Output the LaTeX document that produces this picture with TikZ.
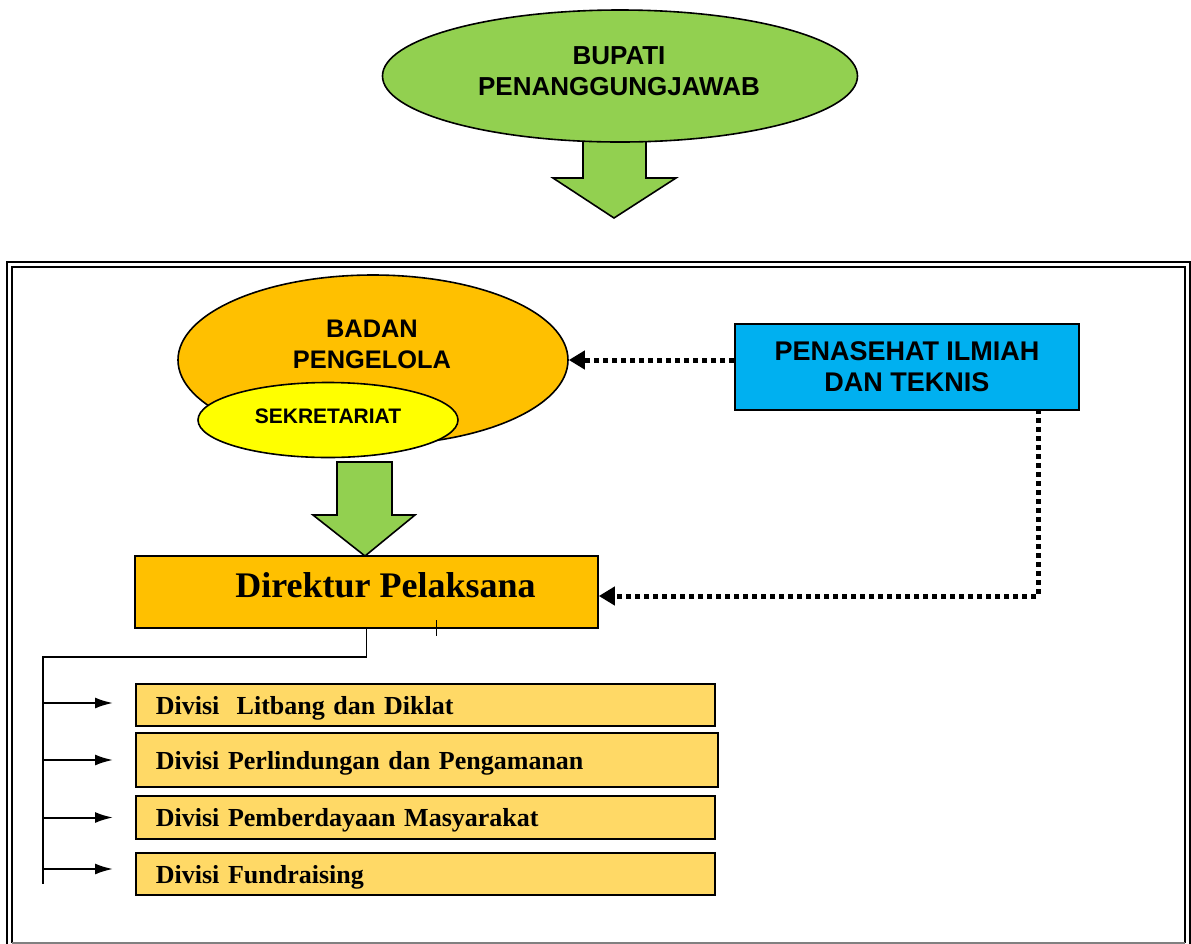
\documentclass[tikz,border=0pt]{standalone}
\usepackage{fontspec}
\setmainfont{Liberation Serif}
\setsansfont{Liberation Sans}
\usetikzlibrary{shapes.geometric,arrows.meta}

\definecolor{hijau}{HTML}{92D050}
\definecolor{emas}{HTML}{FFC000}
\definecolor{kuning}{HTML}{FFFF00}
\definecolor{biru}{HTML}{00B0F0}
\definecolor{emasmuda}{HTML}{FFD966}

\begin{document}
\begin{tikzpicture}[x=0.5pt,y=-0.5pt]
	\tikzset{oval/.style={ellipse,draw,thick,inner sep=0pt}}
	\tikzset{kotak/.style={rectangle,draw,thick,inner sep=0pt}}
	\tikzset{judul/.style={font=\sffamily\bfseries\fontsize{13}{15.5}\selectfont,align=center}}
	\tikzset{divisi/.style={kotak,fill=emasmuda,anchor=west,align=left,inner xsep=10pt,
		text depth=0pt,font=\bfseries\fontsize{13}{15}\selectfont}}
	\tikzset{titik/.style={line width=2.5pt,dash pattern=on 2.5pt off 2pt,
		-{Triangle[length=8pt,width=9pt]}}}
	\tikzset{panah/.style={line width=1pt,-{Latex[length=9pt,width=5.5pt]}}}

	\useasboundingbox (0,0) rectangle (1191,944);

	% bingkai ganda
	\draw[line width=1pt] (7,960) -- (7,262) -- (1190,262) -- (1190,960);
	\draw[line width=1pt] (12,943) -- (12,267) -- (1185,267) -- (1185,943);
	\draw[gray,line width=0.8pt] (12,943) -- (1185,943);

	% panah hijau
	\draw[thick,fill=hijau] (583,130) -- (583,178) -- (553,178) -- (614,218)
		-- (676,178) -- (646,178) -- (646,130) -- cycle;
	\draw[thick,fill=hijau] (337,462) -- (337,515) -- (313,515) -- (365,556)
		-- (415,515) -- (392,515) -- (392,462) -- cycle;

	\node[oval,fill=hijau,minimum width=237.5pt,minimum height=66pt] (bupati) at (620,76) {};
	\node[judul] (bupatitext) at (619,71) {BUPATI\\PENANGGUNGJAWAB};

	\node[oval,fill=emas,minimum width=195pt,minimum height=85pt] (badan) at (373,360) {};
	\node[judul,font=\sffamily\bfseries\fontsize{12.7}{15.5}\selectfont] (badantext) at (372,344) {BADAN\\PENGELOLA};
	\node[oval,fill=kuning,minimum width=130pt,minimum height=37.5pt,
		font=\sffamily\bfseries\fontsize{10.5}{12}\selectfont] (sekretariat) at (328,420) {\raisebox{4pt}{SEKRETARIAT}};

	\node[kotak,fill=biru,minimum width=172pt,minimum height=43pt,judul,
		font=\sffamily\bfseries\fontsize{13.5}{15.5}\selectfont] (penasehat) at (907,367) {PENASEHAT ILMIAH\\DAN TEKNIS};

	\node[kotak,fill=emas,minimum width=231.5pt,minimum height=36pt,text height=5pt,text depth=0pt,
		font=\bfseries\fontsize{18}{20}\selectfont] (direktur) at (366.5,592) {\hspace*{19pt}Direktur Pelaksana};

	\node[divisi,text width=269.5pt,minimum height=21pt] (div1) at (135,705) {Divisi~ Litbang dan Diklat};
	\node[divisi,text width=271pt,minimum height=27pt] (div2) at (135,760) {Divisi Perlindungan dan Pengamanan};
	\node[divisi,text width=269.5pt,minimum height=21.5pt] (div3) at (135,817.5) {Divisi Pemberdayaan Masyarakat};
	\node[divisi,text width=269.5pt,minimum height=21pt] (div4) at (135,874) {Divisi Fundraising};

	% garis putus-putus dari penasehat
	\draw[titik] (badan.east -| penasehat.west) -- (badan.east);
	\coordinate (pbawah) at (1038,409);
	\draw[titik] (pbawah) |- ([yshift=-2pt]direktur.east);

	% garis ke divisi
	\coordinate (batang) at (43,657);
	\coordinate (batangujung) at (43,884);
	\draw[line width=0.8pt] (direktur.south) |- (batang) -- (batangujung);
	\draw[panah,shorten >=11pt] ([yshift=1pt]div1.west -| batang) -- ([yshift=1pt]div1.west);
	\draw[panah,shorten >=11pt] (div2.west -| batang) -- (div2.west);
	\draw[panah,shorten >=11pt] (div3.west -| batang) -- (div3.west);
	\draw[panah,shorten >=11pt] ([yshift=2.5pt]div4.west -| batang) -- ([yshift=2.5pt]div4.west);
	\draw[line width=0.5pt] (436,620) -- (436,636);
\end{tikzpicture}
\end{document}
